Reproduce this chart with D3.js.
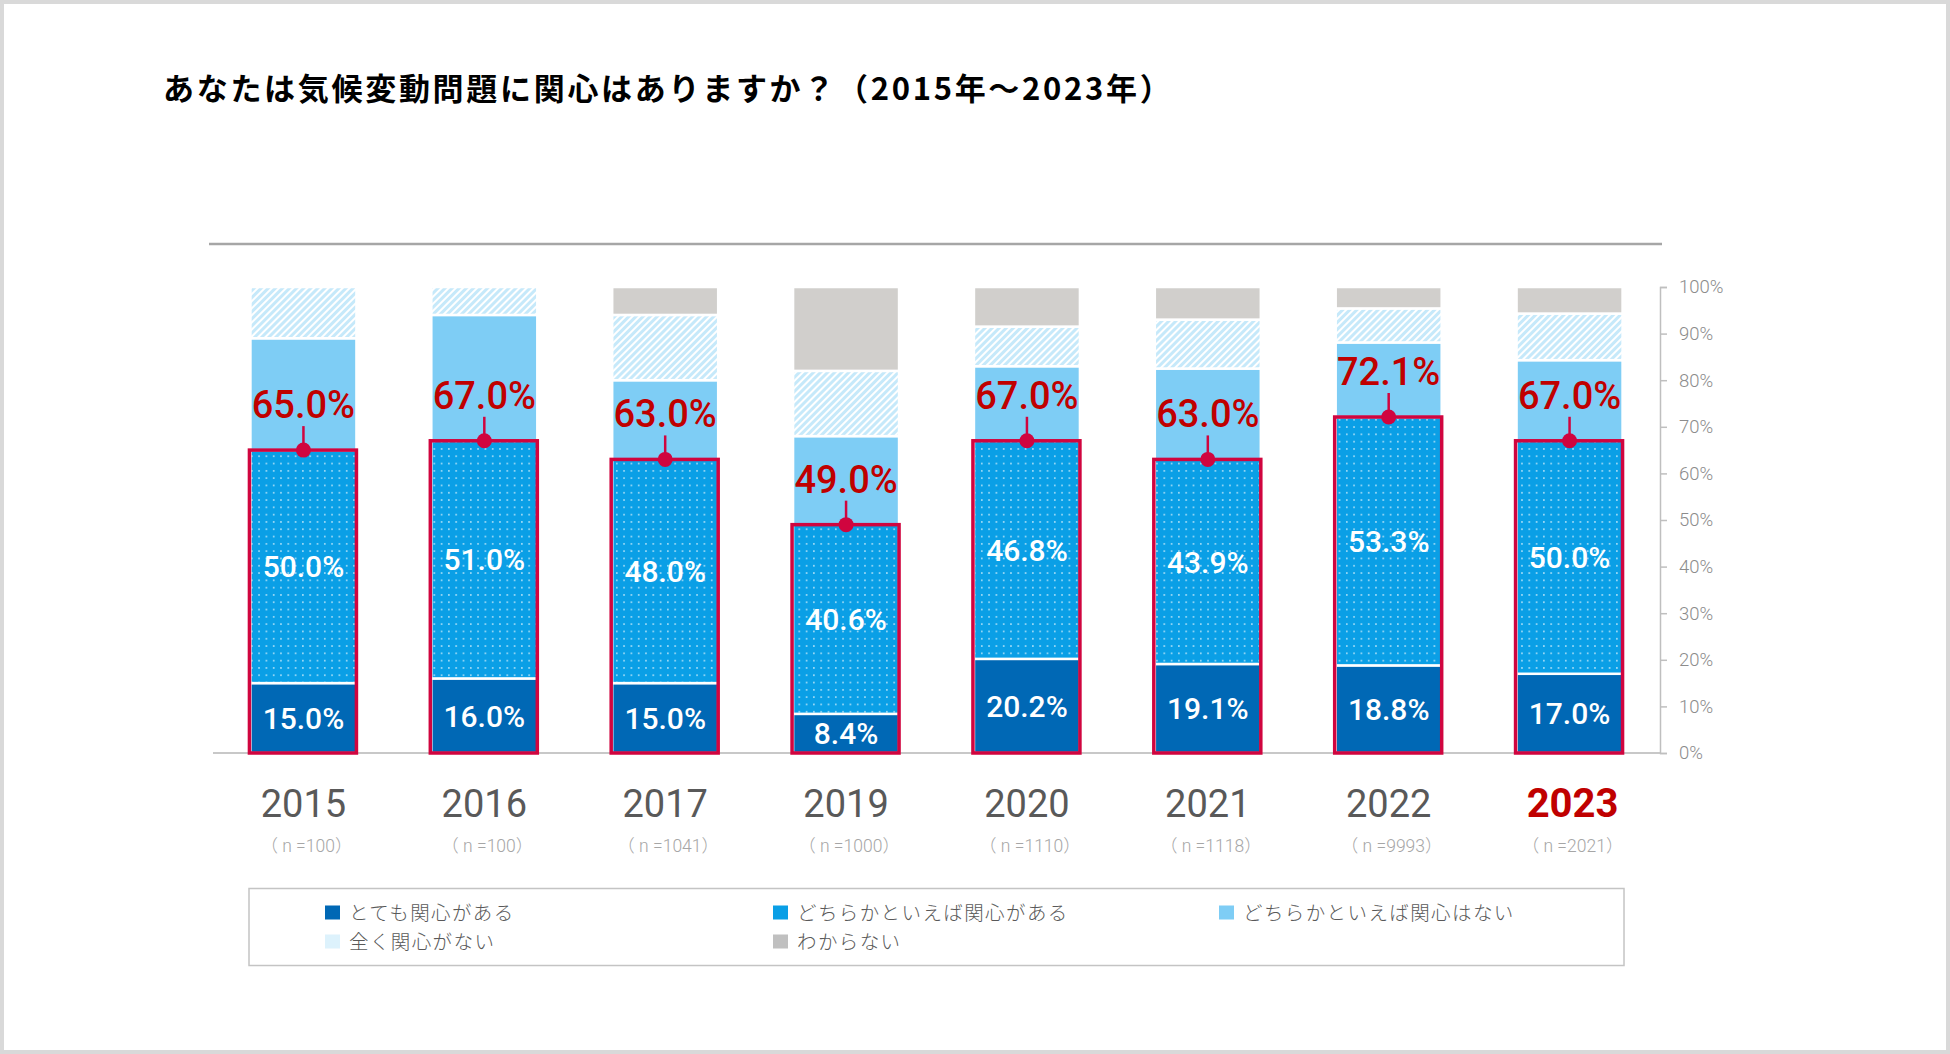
<!DOCTYPE html>
<html>
<head>
<meta charset="utf-8">
<script src="https://cdn.jsdelivr.net/npm/d3@7"></script>
<style>
  body { margin: 0; background: #fff; overflow: hidden; }
  text { font-family: Roboto, "Noto Sans CJK JP", sans-serif; }
  .jp { font-family: "Noto Sans CJK JP", sans-serif; }
</style>
</head>
<body>
<div id="chart"></div>
<script>
// data (percent)
const years = ["2015", "2016", "2017", "2019", "2020", "2021", "2022", "2023"];
const sampleSizes = [100, 100, 1041, 1000, 1110, 1118, 9993, 2021];
const veryInterested = [15.0, 16.0, 15.0, 8.4, 20.2, 19.1, 18.8, 17.0];
const somewhatInterested = [50.0, 51.0, 48.0, 40.6, 46.8, 43.9, 53.3, 50.0];
const somewhatNot = [24.0, 27.0, 17.0, 19.0, 16.0, 19.5, 16.0, 17.3];
const notAtAll = [11.0, 6.0, 14.0, 14.0, 8.5, 10.5, 7.3, 10.0];
const dontKnow = [0.0, 0.0, 6.0, 18.0, 8.5, 7.0, 4.6, 5.7];
const seriesNames = ["とても関心がある", "どちらかといえば関心がある", "どちらかといえば関心はない", "全く関心がない", "わからない"];
const yTicks = [0, 10, 20, 30, 40, 50, 60, 70, 80, 90, 100];

const W = 1950, H = 1054;
const keys = ["very", "somewhat", "somewhatNot", "notAtAll", "dontKnow"];
const rows = years.map((year, i) => ({
    year,
    n: sampleSizes[i],
    very: veryInterested[i],
    somewhat: somewhatInterested[i],
    somewhatNot: somewhatNot[i],
    notAtAll: notAtAll[i],
    dontKnow: dontKnow[i]
}));

const svg = d3.select("#chart").append("svg")
    .attr("width", W)
    .attr("height", H);

const defs = svg.append("defs");
defs.append("pattern")
    .attr("id", "dots")
    .attr("width", 7.3).attr("height", 7.3)
    .attr("patternUnits", "userSpaceOnUse")
    .call(p => p.append("rect").attr("width", 7.3).attr("height", 7.3).attr("fill", "#0a9fe6"))
    .call(p => p.append("circle").attr("cx", 3.6).attr("cy", 3.6).attr("r", 0.9).attr("fill", "rgba(255,255,255,0.7)"));
defs.append("pattern")
    .attr("id", "hatch")
    .attr("width", 5).attr("height", 5)
    .attr("patternUnits", "userSpaceOnUse")
    .attr("patternTransform", "rotate(45)")
    .call(p => p.append("rect").attr("width", 5).attr("height", 5).attr("fill", "#c6e9fa"))
    .call(p => p.append("line").attr("x1", 1).attr("y1", 0).attr("x2", 1).attr("y2", 5)
        .attr("stroke", "#fff").attr("stroke-width", 2));

const fills = {
    very: "#0068b5",
    somewhat: "url(#dots)",
    somewhatNot: "#7ecdf5",
    notAtAll: "url(#hatch)",
    dontKnow: "#d1cfcc"
};
const legendColors = ["#0068b5", "#0a9fe6", "#7ecdf5", "#ddf2fc", "#c0c0c0"];
const red = "#d0053f";

// frame
svg.append("rect")
    .attr("x", 2).attr("y", 2)
    .attr("width", W - 4).attr("height", H - 4)
    .attr("fill", "#fff")
    .attr("stroke", "#d9d9d9")
    .attr("stroke-width", 4);

svg.append("text")
    .attr("class", "jp")
    .attr("x", 163).attr("y", 100)
    .attr("font-size", 31)
    .attr("font-weight", 700)
    .attr("letter-spacing", 2.7)
    .attr("fill", "#000")
    .text("あなたは気候変動問題に関心はありますか？（2015年～2023年）");

svg.append("line")
    .attr("x1", 209).attr("x2", 1662)
    .attr("y1", 244).attr("y2", 244)
    .attr("stroke", "#a6a6a6")
    .attr("stroke-width", 2.5);

const x = d3.scaleBand()
    .domain(years)
    .range([213, 1660])
    .paddingInner(0.414)
    .paddingOuter(0.207);

const y = d3.scaleLinear()
    .domain([0, 100])
    .range([753, 287]);

// baseline
svg.append("line")
    .attr("x1", 213).attr("x2", 1660)
    .attr("y1", y(0)).attr("y2", y(0))
    .attr("stroke", "#c8c8c8")
    .attr("stroke-width", 2);

const stacked = d3.stack().keys(keys)(rows);

svg.append("g")
    .selectAll("g")
    .data(stacked)
    .join("g")
    .attr("fill", d => fills[d.key])
    .selectAll("rect")
    .data(d => d.filter(s => s[1] - s[0] > 0))
    .join("rect")
    .attr("x", d => x(d.data.year))
    .attr("width", x.bandwidth())
    .attr("y", d => y(d[1]))
    .attr("height", d => y(d[0]) - y(d[1]))
    .attr("stroke", "#fff")
    .attr("stroke-width", 2.5);

// segment labels for the two "interested" groups
const labelled = stacked.slice(0, 2);
svg.append("g")
    .selectAll("g")
    .data(labelled)
    .join("g")
    .selectAll("text")
    .data(d => d)
    .join("text")
    .attr("x", d => x(d.data.year) + x.bandwidth() / 2)
    .attr("y", d => y((d[0] + d[1]) / 2))
    .attr("dy", "0.36em")
    .attr("text-anchor", "middle")
    .attr("font-size", 30)
    .attr("font-weight", 500)
    .attr("fill", "#fff")
    .text(d => (d[1] - d[0]).toFixed(1) + "%");

// red outline around "interested" total
const total = d => d.very + d.somewhat;
svg.append("g")
    .selectAll("rect")
    .data(rows)
    .join("rect")
    .attr("x", d => x(d.year) - 1)
    .attr("width", x.bandwidth() + 1)
    .attr("y", d => y(total(d)))
    .attr("height", d => y(0) - y(total(d)))
    .attr("fill", "none")
    .attr("stroke", red)
    .attr("stroke-width", 3.5);

const marker = svg.append("g")
    .selectAll("g")
    .data(rows)
    .join("g")
    .attr("transform", d => `translate(${x(d.year) + x.bandwidth() / 2},${y(total(d))})`);
marker.append("line")
    .attr("y1", 0).attr("y2", -24)
    .attr("stroke", red)
    .attr("stroke-width", 2.5);
marker.append("circle")
    .attr("r", 7.5)
    .attr("fill", red);
marker.append("text")
    .attr("y", -32)
    .attr("text-anchor", "middle")
    .attr("font-size", 38)
    .attr("font-weight", 500)
    .attr("fill", "#c00000")
    .text(d => total(d).toFixed(1) + "%");

// year + sample size labels
const last = years[years.length - 1];
svg.append("g")
    .selectAll("text")
    .data(rows)
    .join("text")
    .attr("x", d => x(d.year) + x.bandwidth() / 2 + (d.year === last ? 3 : 0))
    .attr("y", 817)
    .attr("text-anchor", "middle")
    .attr("font-size", d => d.year === last ? 40 : 38)
    .attr("font-weight", d => d.year === last ? 700 : 400)
    .attr("fill", d => d.year === last ? "#c00000" : "#595959")
    .text(d => d.year);

svg.append("g")
    .selectAll("text")
    .data(rows)
    .join("text")
    .attr("x", d => x(d.year) + x.bandwidth() / 2 + 3)
    .attr("y", 852)
    .attr("text-anchor", "middle")
    .attr("font-size", 17.5)
    .attr("font-weight", 300)
    .attr("fill", "#a6a6a6")
    .text(d => `（ n =${d.n}）`);

// right-hand percent axis
const axis = svg.append("g")
    .attr("transform", "translate(1660,0)")
    .call(d3.axisRight(y)
        .tickValues(yTicks)
        .tickFormat(d => d + "%")
        .tickSize(7)
        .tickPadding(12));
axis.select(".domain").attr("stroke", "#bfbfbf").attr("stroke-width", 1.5);
axis.selectAll(".tick line").attr("stroke", "#bfbfbf").attr("stroke-width", 1.5);
axis.selectAll(".tick text")
    .attr("font-family", "Roboto, sans-serif")
    .attr("font-size", 18.5)
    .attr("font-weight", 300)
    .attr("fill", "#8c8c8c");

// legend
svg.append("rect")
    .attr("x", 249).attr("y", 888.5)
    .attr("width", 1375).attr("height", 77)
    .attr("fill", "#fff")
    .attr("stroke", "#c4c4c4")
    .attr("stroke-width", 1.5);

const legendX = [325, 773, 1219, 325, 773];
const legendY = [912.5, 912.5, 912.5, 941.5, 941.5];
const item = svg.append("g")
    .selectAll("g")
    .data(seriesNames)
    .join("g")
    .attr("transform", (d, i) => `translate(${legendX[i]},${legendY[i]})`);
item.append("rect")
    .attr("y", -7)
    .attr("width", 15).attr("height", 14)
    .attr("fill", (d, i) => legendColors[i]);
item.append("text")
    .attr("class", "jp")
    .attr("x", 24)
    .attr("dy", "0.36em")
    .attr("font-size", 19.5)
    .attr("font-weight", 300)
    .attr("letter-spacing", 1.4)
    .attr("fill", "#595959")
    .text(d => d);
</script>
</body>
</html>
